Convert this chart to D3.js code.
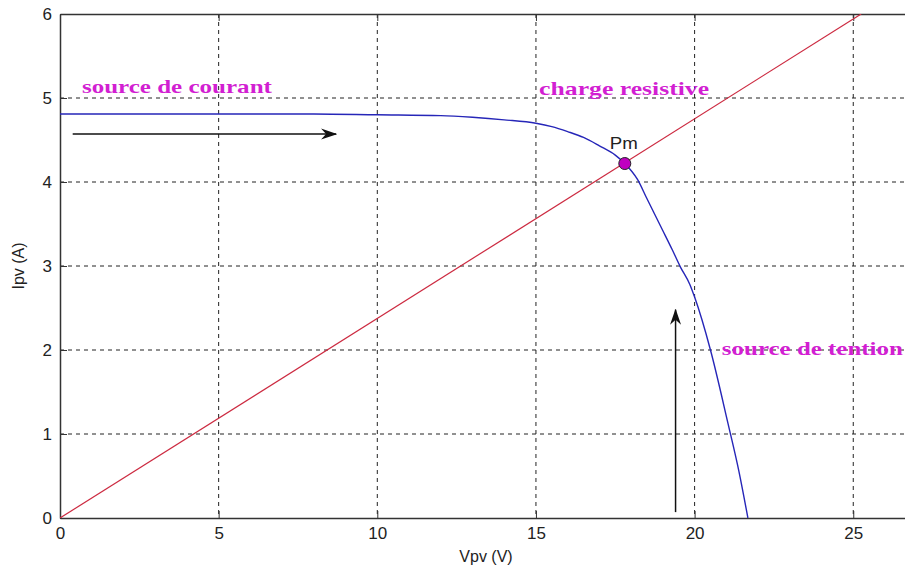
<!DOCTYPE html>
<html>
<head>
<meta charset="utf-8">
<script src="https://cdn.jsdelivr.net/npm/d3@7/dist/d3.min.js"></script>
<style>
  body { margin: 0; background: #fff; }
  svg { display: block; }
</style>
</head>
<body>
<svg width="905" height="574"></svg>
<script>
// tick values
const xTicks = [0, 5, 10, 15, 20, 25]
const yTicks = [0, 1, 2, 3, 4, 5, 6]

// I-V curve of the PV panel
const ivV = [0, 2, 4, 6, 8, 10, 12, 13, 14, 15, 15.5, 16, 16.5, 17, 17.5, 17.8, 18.2, 18.5, 19, 19.3, 19.55, 19.85, 20, 20.5, 21.05, 21.4, 21.68]
const ivI = [4.81, 4.81, 4.81, 4.81, 4.81, 4.80, 4.79, 4.77, 4.74, 4.70, 4.66, 4.60, 4.53, 4.43, 4.32, 4.22, 4.03, 3.80, 3.42, 3.19, 2.99, 2.78, 2.63, 2.0, 1.13, 0.55, 0]

// resistive load line
const loadV = [0, 25.25]
const loadI = [0, 6]

// maximum power point
const pmV = 17.8
const pmI = 4.22

// annotations: text, data coords of baseline start
const labels = [
  { text: 'source de courant', v: 0.69, i: 5.06, w: 190 },
  { text: 'charge resistive', v: 15.1, i: 5.04, w: 170 },
  { text: 'source de tention', v: 20.86, i: 1.94, w: 181 }
]
const arrows = [
  { v1: 0.4, i1: 4.57, v2: 8.7, i2: 4.57 },
  { v1: 19.4, i1: 0.07, v2: 19.4, i2: 2.48 }
]

const svg = d3.select('svg')
const plotLeft = 60
const plotTop = 14
const plotBottom = 518

const x = d3.scaleLinear().domain([0, 27]).range([plotLeft, plotLeft + 27 * 31.73])
const y = d3.scaleLinear().domain([0, 6]).range([plotBottom, plotTop])

const defs = svg.append('defs')
defs.append('clipPath')
  .attr('id', 'plot')
  .append('rect')
  .attr('x', plotLeft).attr('y', plotTop)
  .attr('width', x(27) - plotLeft).attr('height', plotBottom - plotTop)

defs.append('marker')
  .attr('id', 'head')
  .attr('viewBox', '0 -6 16 12')
  .attr('refX', 15).attr('refY', 0)
  .attr('markerWidth', 16).attr('markerHeight', 12)
  .attr('markerUnits', 'userSpaceOnUse')
  .attr('orient', 'auto')
  .append('path')
  .attr('d', 'M0,-5.5L16,0L0,5.5L5,0Z')
  .attr('fill', '#111')

// grid
svg.append('g')
  .selectAll('line')
  .data(xTicks.slice(1))
  .enter()
  .append('line')
  .attr('x1', function (d) { return x(d) })
  .attr('x2', function (d) { return x(d) })
  .attr('y1', plotTop).attr('y2', plotBottom)
  .attr('stroke', '#222')
  .attr('stroke-dasharray', '4,4')

svg.append('g')
  .selectAll('line')
  .data(yTicks.slice(1, -1))
  .enter()
  .append('line')
  .attr('x1', plotLeft).attr('x2', x(27))
  .attr('y1', function (d) { return y(d) })
  .attr('y2', function (d) { return y(d) })
  .attr('stroke', '#222')
  .attr('stroke-dasharray', '4,4')

// axes
const xAxis = d3.axisBottom(x).tickValues(xTicks).tickFormat(d3.format('d'))
  .tickSizeInner(-7).tickSizeOuter(0).tickPadding(9)
const yAxis = d3.axisLeft(y).tickValues(yTicks).tickFormat(d3.format('d'))
  .tickSizeInner(-7).tickSizeOuter(0).tickPadding(8)

const gx = svg.append('g')
  .attr('transform', 'translate(0,' + plotBottom + ')')
  .call(xAxis)
const gy = svg.append('g')
  .attr('transform', 'translate(' + plotLeft + ',0)')
  .call(yAxis)
const gt = svg.append('g')
  .attr('transform', 'translate(0,' + plotTop + ')')
  .call(d3.axisTop(x).tickValues(xTicks).tickSizeInner(-7).tickSizeOuter(0).tickFormat(''))

;[gx, gy, gt].forEach(function (g) {
  g.select('.domain').attr('stroke', '#333').attr('stroke-width', 1.5)
  g.selectAll('.tick line').attr('stroke', '#333')
  g.selectAll('.tick text')
    .attr('fill', '#222')
    .style('font-family', 'Liberation Sans, Arial, sans-serif')
    .style('font-size', '17px')
})

svg.append('text')
  .attr('x', 486).attr('y', 562)
  .attr('text-anchor', 'middle')
  .attr('fill', '#222')
  .style('font-family', 'Liberation Sans, Arial, sans-serif')
  .style('font-size', '16px')
  .text('Vpv (V)')

svg.append('text')
  .attr('transform', 'translate(24,266) rotate(-90)')
  .attr('text-anchor', 'middle')
  .attr('fill', '#222')
  .style('font-family', 'Liberation Sans, Arial, sans-serif')
  .style('font-size', '16px')
  .text('Ipv (A)')

// curves
const line = d3.line()
  .x(function (d) { return x(d[0]) })
  .y(function (d) { return y(d[1]) })

const plot = svg.append('g').attr('clip-path', 'url(#plot)')

plot.append('path')
  .attr('d', line(d3.zip(loadV, loadI)))
  .attr('stroke', '#cc2a40')
  .attr('stroke-width', 1.2)
  .attr('fill', 'none')

plot.append('path')
  .attr('d', line.curve(d3.curveMonotoneX)(d3.zip(ivV, ivI)))
  .attr('stroke', '#2626b8')
  .attr('stroke-width', 1.4)
  .attr('fill', 'none')

// arrows
svg.selectAll('.arrow')
  .data(arrows)
  .enter()
  .append('line')
  .attr('class', 'arrow')
  .attr('x1', function (d) { return x(d.v1) })
  .attr('y1', function (d) { return y(d.i1) })
  .attr('x2', function (d) { return x(d.v2) })
  .attr('y2', function (d) { return y(d.i2) })
  .attr('stroke', '#111')
  .attr('stroke-width', 1.5)
  .attr('marker-end', 'url(#head)')

// maximum power point
svg.append('circle')
  .attr('cx', x(pmV)).attr('cy', y(pmI))
  .attr('r', 6)
  .attr('fill', '#c000c0')
  .attr('stroke', '#222')
  .attr('stroke-width', 1)

svg.append('text')
  .attr('x', x(pmV) - 15).attr('y', y(pmI) - 15)
  .attr('fill', '#222')
  .attr('textLength', 28)
  .attr('lengthAdjust', 'spacingAndGlyphs')
  .style('font-family', 'Liberation Sans, Arial, sans-serif')
  .style('font-size', '16px')
  .text('Pm')

// magenta annotations
svg.selectAll('.label')
  .data(labels)
  .enter()
  .append('text')
  .attr('class', 'label')
  .attr('x', function (d) { return x(d.v) })
  .attr('y', function (d) { return y(d.i) })
  .attr('textLength', function (d) { return d.w })
  .attr('lengthAdjust', 'spacingAndGlyphs')
  .attr('fill', '#d21fd2')
  .style('font-family', 'Liberation Serif, Times New Roman, serif')
  .style('font-weight', 'bold')
  .style('font-size', '19px')
  .text(function (d) { return d.text })
</script>
</body>
</html>
